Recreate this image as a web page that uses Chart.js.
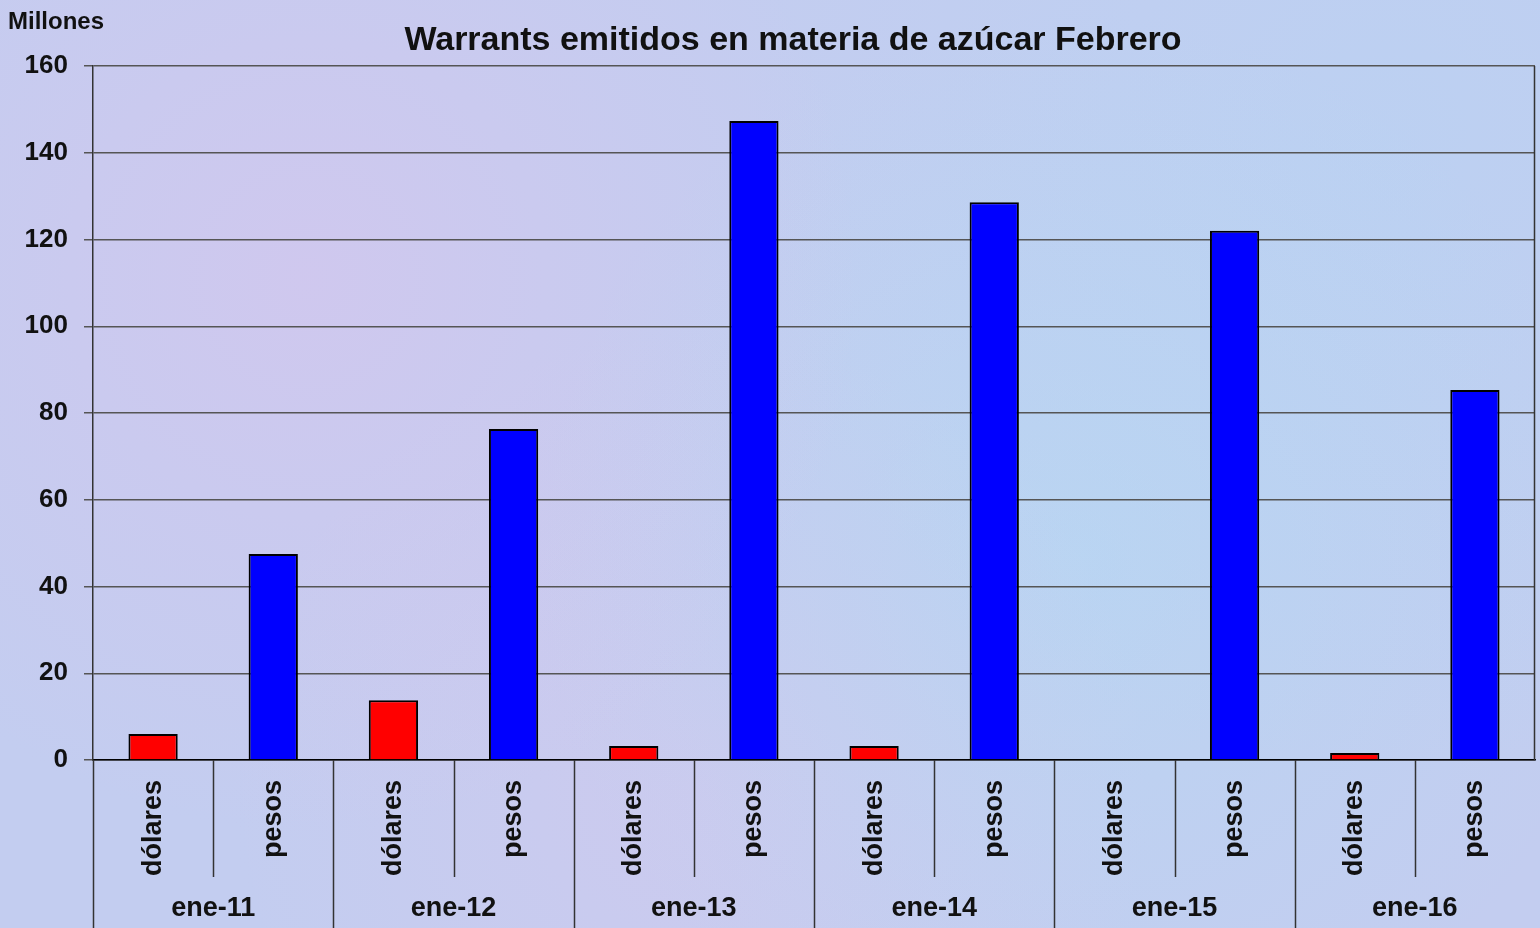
<!DOCTYPE html>
<html>
<head>
<meta charset="utf-8">
<script src="https://cdn.jsdelivr.net/npm/chart.js@4.4.1/dist/chart.umd.min.js"></script>
<style>
  html, body { margin: 0; padding: 0; }
  body {
    width: 1540px; height: 928px; overflow: hidden;
    background-color: #c3cdf0;
    background-image:
      radial-gradient(circle at 20% 30%, rgba(230,190,235,0.35), transparent 40%),
      radial-gradient(circle at 70% 60%, rgba(170,225,245,0.35), transparent 45%),
      radial-gradient(circle at 45% 85%, rgba(225,195,235,0.3), transparent 40%),
      radial-gradient(circle at 90% 15%, rgba(175,215,245,0.35), transparent 40%);
  }
  #wrap { width: 1540px; height: 928px; }
</style>
</head>
<body>
<div id="wrap"><canvas id="myWarrants" width="1540" height="928"></canvas></div>
<script>
const groups = ['ene-11', 'ene-12', 'ene-13', 'ene-14', 'ene-15', 'ene-16'];
const monedas = ['dólares', 'pesos'];
const dolares = [6.0, 13.8, 3.2, 3.2, 0, 1.6];
const pesos = [47.5, 76.3, 147.3, 128.6, 122.0, 85.3];
const yTicks = [0, 20, 40, 60, 80, 100, 120, 140, 160];

const font = '"Liberation Sans", Arial, sans-serif';

// one bar per slot: dólares then pesos for every group
let labels = [];
let values = [];
let colors = [];
groups.forEach((g, i) => {
    labels.push(monedas[0], monedas[1]);
    values.push(dolares[i], pesos[i]);
    colors.push('#ff0000', '#0000ff');
});

// separators and group labels under the axis, plus title texts
const groupAxis = {
    id: 'groupAxis',
    afterDraw(chart) {
        const c = chart.ctx;
        const x = chart.scales.x;
        const area = chart.chartArea;
        const slot = (area.right - area.left) / labels.length;
        c.save();
        c.strokeStyle = '#333';
        c.lineWidth = 1.5;
        for (let i = 0; i < labels.length; i++) {
            const px = Math.round(area.left + i * slot) + 0.5;
            c.beginPath();
            c.moveTo(px, area.bottom);
            c.lineTo(px, i % 2 === 0 ? chart.height : area.bottom + 117);
            c.stroke();
        }
        // right border of plot
        c.beginPath();
        c.moveTo(area.right - 0.5, area.top);
        c.lineTo(area.right - 0.5, area.bottom);
        c.stroke();

        c.fillStyle = '#111';
        c.font = 'bold 27px ' + font;
        c.textAlign = 'center';
        c.textBaseline = 'middle';
        groups.forEach((g, i) => {
            const cx = (x.getPixelForValue(2 * i) + x.getPixelForValue(2 * i + 1)) / 2;
            c.fillText(g, cx, 909);
        });

        c.font = 'bold 34px ' + font;
        c.fillText('Warrants emitidos en materia de azúcar Febrero', 793, 41);
        c.textAlign = 'left';
        c.font = 'bold 24px ' + font;
        c.fillText('Millones', 8, 22);
        c.restore();
    }
};

let ctx = document.getElementById('myWarrants').getContext('2d');
let warrantsChart = new Chart(ctx, {
    type: 'bar',
    data: {
        labels: labels,
        datasets: [{
            label: 'Warrants',
            data: values,
            backgroundColor: colors,
            borderColor: '#000',
            borderWidth: 2,
            barPercentage: 0.41,
            categoryPercentage: 1.0
        }]
    },
    options: {
        responsive: false,
        animation: false,
        layout: { padding: { top: 66, right: 5, left: 0, bottom: 0 } },
        plugins: {
            legend: { display: false },
            tooltip: { enabled: false }
        },
        scales: {
            x: {
                grid: { display: false },
                border: { display: true, color: '#000', width: 1.5 },
                ticks: {
                    color: '#111',
                    font: { family: font, size: 27, weight: 'bold' },
                    minRotation: 90,
                    maxRotation: 90,
                    padding: 12,
                    autoSkip: false
                },
                afterFit(scale) { scale.height = 168; }
            },
            y: {
                min: 0,
                max: 160,
                afterBuildTicks(scale) { scale.ticks = yTicks.map(v => ({ value: v })); },
                grid: { color: '#555', lineWidth: 1.5, tickLength: 9 },
                border: { display: true, color: '#333', width: 1.5 },
                ticks: {
                    color: '#111',
                    font: { family: font, size: 26, weight: 'bold' },
                    padding: 16
                },
                afterFit(scale) { scale.width = 93; }
            }
        }
    },
    plugins: [groupAxis]
});
</script>
</body>
</html>
